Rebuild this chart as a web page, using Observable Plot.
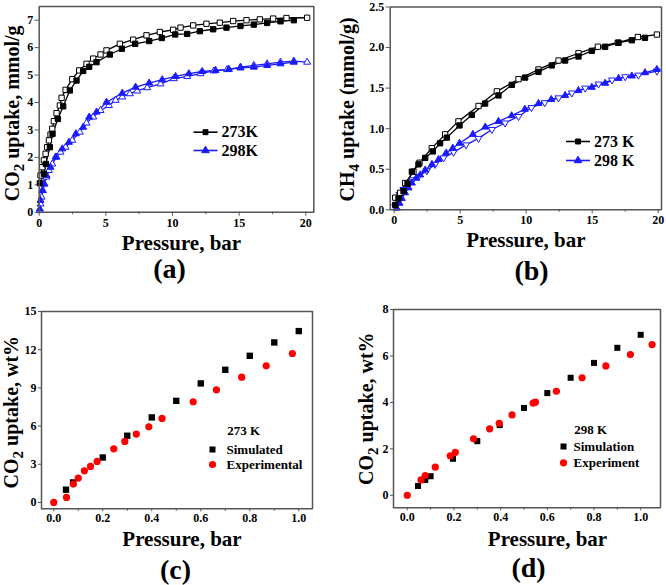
<!DOCTYPE html>
<html><head><meta charset="utf-8">
<script src="https://cdn.jsdelivr.net/npm/d3@7"></script>
<script src="https://cdn.jsdelivr.net/npm/@observablehq/plot@0.6"></script>
<style>
body{margin:0;background:#fff}
#root{position:relative;width:666px;height:585px;background:#fff}
#root > div.cell{position:absolute}
#root > div.cell svg{display:block}
</style></head><body><div id="root"></div>
<script>
// ---------- Panel (a): CO2 uptake (mmol/g) vs pressure (bar) ----------
const a273fillP = [0.05,0.35,0.5,0.8,1.0,1.4,1.8,2.3,2.8,3.3,3.75,4.3,5.3,6.2,7.2,8.25,9.2,10.2,11.1,12.05,13.05,14.05,15.1,16.1,17.1,18.1,19.1];
const a273fillU = [1.06,1.4,1.76,2.37,2.86,3.4,3.86,4.44,4.8,5.15,5.3,5.47,5.75,5.96,6.14,6.24,6.35,6.48,6.5,6.6,6.67,6.73,6.79,6.84,6.9,6.96,7.0];
const a273openP = [0.1,0.23,0.35,0.48,0.6,0.73,0.85,0.98,1.1,1.3,1.55,1.68,1.98,2.48,3.0,3.55,4.05,4.6,5.05,6.05,7.05,8.05,9.05,10.05,10.6,11.55,12.55,13.55,14.55,15.55,16.55,17.55,18.55,20.1];
const a273openU = [1.34,1.64,1.89,2.13,2.37,2.62,2.83,3.04,3.32,3.61,3.89,4.17,4.46,4.85,5.17,5.41,5.6,5.75,5.9,6.14,6.29,6.45,6.57,6.65,6.73,6.81,6.87,6.91,6.97,7.0,7.03,7.06,7.08,7.09];
const a298fillP = [0.05,0.1,0.23,0.35,0.55,0.85,1.23,1.73,2.23,2.75,3.3,3.75,4.3,5.05,6.23,7.23,8.25,9.23,10.23,11.23,12.23,13.23,14.23,15.1,16.1,17.1,18.1,19.1];
const a298fillU = [0.12,0.43,0.79,1.03,1.34,1.64,2.01,2.31,2.55,2.86,3.1,3.47,3.65,4.01,4.34,4.56,4.71,4.83,4.95,5.05,5.13,5.17,5.21,5.26,5.29,5.35,5.41,5.47];
const a298openP = [0.05,0.1,0.18,0.28,0.4,0.53,0.73,0.98,1.3,1.6,1.98,2.48,3.05,3.55,4.05,4.6,5.23,5.73,6.23,6.8,7.35,8.1,9.1,10.1,11.1,12.1,13.1,14.1,15.1,16.1,17.1,18.1,19.1,20.1];
const a298openU = [0.06,0.3,0.55,0.79,1.03,1.28,1.52,1.76,2.01,2.19,2.37,2.62,2.92,3.25,3.47,3.71,3.89,4.08,4.2,4.32,4.42,4.54,4.68,4.87,4.95,5.05,5.15,5.2,5.29,5.35,5.41,5.47,5.51,5.47];

// ---------- Panel (b): CH4 uptake (mmol/g) vs pressure (bar) ----------
const b273fillP = [0.08,0.33,0.71,1.01,1.34,1.84,2.35,2.93,3.48,3.99,4.95,5.88,6.89,7.9,8.91,9.92,10.93,11.94,12.95,13.96,14.97,15.98,17.0,18.0,19.0];
const b273fillU = [0.06,0.14,0.23,0.32,0.47,0.56,0.64,0.72,0.82,0.89,1.04,1.17,1.31,1.41,1.54,1.63,1.7,1.78,1.84,1.89,1.96,2.01,2.06,2.09,2.12];
const b273openP = [0.08,0.45,0.83,1.46,1.92,2.85,3.86,4.87,6.39,7.78,9.42,10.93,12.45,13.96,15.43,16.94,18.46,19.9];
const b273openU = [0.15,0.21,0.33,0.47,0.58,0.76,0.93,1.09,1.28,1.46,1.61,1.73,1.84,1.93,2.01,2.06,2.13,2.16];
const b298fillP = [0.2,0.4,0.58,0.83,1.09,1.34,1.67,1.97,2.35,2.86,3.36,3.94,4.44,4.95,5.96,6.9,7.9,8.9,9.9,10.93,11.9,12.95,13.96,14.97,15.98,17.0,18.0,19.0,19.9];
const b298fillU = [0.02,0.08,0.14,0.21,0.27,0.33,0.39,0.43,0.49,0.56,0.62,0.7,0.76,0.82,0.93,1.02,1.09,1.16,1.24,1.31,1.36,1.41,1.47,1.51,1.56,1.62,1.65,1.69,1.73];
const b298openP = [0.08,0.25,0.4,0.7,1.0,1.41,1.84,2.47,3.1,3.74,4.5,5.45,6.39,7.4,8.4,9.42,10.4,11.4,12.45,13.46,14.47,15.48,16.5,17.5,18.5,19.9];
const b298openU = [0.04,0.12,0.19,0.25,0.31,0.37,0.41,0.48,0.56,0.64,0.71,0.8,0.88,0.99,1.07,1.15,1.26,1.32,1.38,1.44,1.5,1.55,1.6,1.64,1.66,1.71];

// ---------- Panel (c): 273 K, CO2 uptake wt% vs pressure (bar) ----------
const cSimP = [0.05,0.079,0.2,0.3,0.4,0.5,0.6,0.7,0.8,0.9,1.0];
const cSimU = [1.0,1.57,3.53,5.24,6.68,7.98,9.35,10.42,11.52,12.57,13.46];
const cExpP = [0,0.052,0.08,0.1,0.125,0.15,0.177,0.245,0.29,0.337,0.388,0.442,0.569,0.664,0.767,0.867,0.974];
const cExpU = [0,0.39,1.44,1.91,2.49,2.83,3.22,4.21,4.79,5.37,5.94,6.6,7.91,8.85,9.84,10.73,11.7];

// ---------- Panel (d): 298 K, CO2 uptake wt% vs pressure (bar) ----------
const dSimP = [0.046,0.077,0.1,0.196,0.3,0.396,0.5,0.6,0.7,0.8,0.9,1.0];
const dSimU = [0.4,0.66,0.82,1.57,2.33,3.02,3.76,4.4,5.06,5.7,6.35,6.91];
const dExpP = [0,0.059,0.077,0.12,0.184,0.206,0.284,0.353,0.394,0.449,0.539,0.549,0.639,0.749,0.851,0.956,1.049];
const dExpU = [0,0.66,0.85,1.21,1.7,1.85,2.43,2.86,3.1,3.46,3.97,4.01,4.48,5.06,5.57,6.06,6.49];

// tick values and labels
const aXTicks = [0,5,10,15,20], aXMinor = [2.5,7.5,12.5,17.5], aYTicks = [0,1,2,3,4,5,6,7];
const bXTicks = [0,5,10,15,20], bXMinor = [2.5,7.5,12.5,17.5], bYTicks = [0,0.5,1.0,1.5,2.0,2.5];
const cdXTicks = [0,0.2,0.4,0.6,0.8,1.0], cdXMinor = [0.1,0.3,0.5,0.7,0.9];
const cYTicks = [0,3,6,9,12,15], dYTicks = [0,2,4,6,8];
const xLabel = "Pressure, bar";
const yLabels = ["CO2 uptake, mmol/g", "CH4 uptake (mmol/g)", "CO2 uptake, wt%", "CO2 uptake, wt%"];
const panelTags = ["(a)", "(b)", "(c)", "(d)"];
const legendAB = [["273K","298K"],["273 K","298 K"]];
const legendC = ["273 K", "Simulated", "Experimental"];
const legendD = ["298 K", "Simulation", "Experiment"];

// ---------- helpers ----------
const zip = (P, U) => P.map((p, i) => ({p, u: U[i]}));
const FONT = "'Liberation Serif','Times New Roman',serif";
const BLUE = "#1a1aff", RED = "#ff0000", AXIS = "#555";
const s3 = Math.sqrt(3);
const downTriangle = {draw(ctx, size) {
  const y = -Math.sqrt(size / (s3 * 3));
  ctx.moveTo(0, -y * 2); ctx.lineTo(-s3 * y, y); ctx.lineTo(s3 * y, y); ctx.closePath();
}};
const hline = {draw(ctx) { ctx.moveTo(-12, 0); ctx.lineTo(12, 0); }};
const root = document.getElementById("root");

function panel(cfg) {
  const [x0, x1] = cfg.xd, [y0, y1] = cfg.yd;
  // plot box traced along the scale domain extents
  const boxPath = zip([x0, x1, x1, x0, x0], [y0, y0, y1, y1, y0]);
  const svg = Plot.plot({
    width: cfg.w, height: cfg.h,
    marginLeft: cfg.ml, marginRight: cfg.mr, marginTop: cfg.mt, marginBottom: cfg.mb,
    x: {domain: cfg.xd}, y: {domain: cfg.yd},
    style: {fontFamily: FONT, fontSize: "12px", fontWeight: "bold", color: "black", background: "transparent"},
    marks: [
      Plot.axisX(cfg.xt, {tickSize: cfg.ts, tickPadding: 2, tickFormat: cfg.xf, stroke: AXIS, label: null}),
      Plot.axisX(cfg.xm, {tickSize: 2.5, tickFormat: () => "", stroke: AXIS, label: null}),
      Plot.axisY(cfg.yt, {tickSize: cfg.ts, tickPadding: 2, tickFormat: cfg.yf, stroke: AXIS, label: null}),
      ...cfg.marks,
      Plot.line(boxPath, {x: "p", y: "u", stroke: AXIS, strokeWidth: 1.5, strokeLinejoin: "miter", strokeLinecap: "square"}),
      Plot.text([xLabel], {text: d => d, frameAnchor: "bottom", dx: cfg.xlp[0], dy: cfg.xlp[1], lineAnchor: "middle", fontSize: 21, fontWeight: "bold"}),
      Plot.text([cfg.yl], {text: d => d, frameAnchor: "left", rotate: -90, dx: cfg.ylp[0], dy: cfg.ylp[1], textAnchor: "middle", lineAnchor: "middle", fontSize: 20, fontWeight: "bold"}),
      Plot.text([cfg.tag], {text: d => d, frameAnchor: "bottom", dx: cfg.tagp[0], dy: cfg.tagp[1], lineAnchor: "middle", fontSize: 28, fontWeight: "bold"})
    ]
  });
  // subscripts
  svg.querySelectorAll("text").forEach(t => {
    const s = t.textContent;
    const m = s.match(/^(CO|CH)(\d)(.*)$/);
    if (m && t.children.length === 0) {
      t.textContent = "";
      const ns = "http://www.w3.org/2000/svg";
      const a = document.createElementNS(ns, "tspan"); a.textContent = m[1];
      const b = document.createElementNS(ns, "tspan"); b.textContent = m[2]; b.setAttribute("dy", "5"); b.setAttribute("font-size", "15");
      const c = document.createElementNS(ns, "tspan"); c.textContent = m[3]; c.setAttribute("dy", "-5");
      t.append(a, b, c);
    }
  });
  const cell = document.createElement("div");
  cell.className = "cell";
  cell.style.left = cfg.left + "px";
  cell.style.top = cfg.top + "px";
  cell.append(svg);
  root.append(cell);
}

function legendRow(x, y, color, sym, filled, label, size) {
  return [
    Plot.dot([0], {frameAnchor: "top-left", dx: x, dy: y, symbol: hline, stroke: color, strokeWidth: 1.6, fill: "none"}),
    Plot.dot([0], {frameAnchor: "top-left", dx: x, dy: y, symbol: sym, r: 2.8, fill: filled ? color : "white", stroke: color, strokeWidth: 1}),
    Plot.text([label], {text: d => d, frameAnchor: "top-left", dx: x + 16, dy: y, textAnchor: "start", lineAnchor: "middle", fontSize: size, fontWeight: "bold"})
  ];
}

function series(data, color, sym, filled, r) {
  return Plot.dot(data, {x: "p", y: "u", symbol: sym, r, fill: filled ? color : "white", stroke: color, strokeWidth: 1});
}
function curve(data, color) {
  return Plot.line(data, {x: "p", y: "u", stroke: color, strokeWidth: 1.3});
}

// Panel (a)
const a273f = zip(a273fillP, a273fillU), a273o = zip(a273openP, a273openU);
const a298f = zip(a298fillP, a298fillU), a298o = zip(a298openP, a298openU);
panel({
  left: 0, top: 0, w: 333, h: 292, ml: 38.7, mr: 19.7, mt: 6, mb: 80.3,
  xd: [0, 20.6], yd: [0, 7.5], xt: aXTicks, xm: aXMinor, yt: aYTicks, ts: 4,
  xf: d3.format("d"), yf: d3.format("d"),
  yl: yLabels[0], tag: panelTags[0],
  xlp: [5, 31.3], ylp: [-27, 4], tagp: [-7, 57],
  marks: [
    curve(a298o, BLUE), curve(a298f, BLUE), curve(a273o, "black"), curve(a273f, "black"),
    series(a298o, BLUE, "triangle", false, 2.6), series(a298f, BLUE, "triangle", true, 2.6),
    series(a273o, "black", "square", false, 3), series(a273f, "black", "square", true, 3),
    ...legendRow(166.3, 125.7, "black", "square", true, legendAB[0][0], 16),
    ...legendRow(166.3, 144, BLUE, "triangle", true, legendAB[0][1], 16)
  ]
});

// Panel (b)
const b273f = zip(b273fillP, b273fillU), b273o = zip(b273openP, b273openU);
const b298f = zip(b298fillP, b298fillU), b298o = zip(b298openP, b298openU);
panel({
  left: 333, top: 0, w: 333, h: 292, ml: 56.7, mr: 5, mt: 6.5, mb: 82.7,
  xd: [-0.3, 20.25], yd: [0, 2.5], xt: bXTicks, xm: bXMinor, yt: bYTicks, ts: 4,
  xf: d3.format("d"), yf: d3.format(".1f"),
  yl: yLabels[1], tag: panelTags[1],
  xlp: [0, 30], ylp: [-42.5, 1], tagp: [5.7, 61],
  marks: [
    curve(b298o, BLUE), curve(b298f, BLUE), curve(b273o, "black"), curve(b273f, "black"),
    series(b298o, BLUE, downTriangle, false, 2.6), series(b298f, BLUE, "triangle", true, 2.6),
    series(b273o, "black", "square", false, 3), series(b273f, "black", "square", true, 3),
    ...legendRow(187.8, 134.5, "black", "square", true, legendAB[1][0], 16),
    ...legendRow(187.8, 153.5, BLUE, "triangle", true, legendAB[1][1], 16)
  ]
});

// Panel (c)
panel({
  left: 0, top: 292, w: 333, h: 293, ml: 41, mr: 21, mt: 19, mb: 76.7,
  xd: [-0.05, 1.056], yd: [-0.5, 15], xt: cdXTicks, xm: cdXMinor, yt: cYTicks, ts: 3,
  xf: d3.format(".1f"), yf: d3.format("d"),
  yl: yLabels[2], tag: panelTags[2],
  xlp: [5, 30], ylp: [-30, 2], tagp: [-1.5, 61],
  marks: [
    Plot.dot(zip(cSimP, cSimU), {x: "p", y: "u", symbol: "square", r: 3.6, fill: "black"}),
    Plot.dot(zip(cExpP, cExpU), {x: "p", y: "u", r: 3.6, fill: RED}),
    Plot.text([legendC[0]], {text: d => d, frameAnchor: "top-left", dx: 185.7, dy: 119, textAnchor: "start", lineAnchor: "middle", fontSize: 13, fontWeight: "bold"}),
    Plot.dot([0], {frameAnchor: "top-left", dx: 171, dy: 138, symbol: "square", r: 3.4, fill: "black"}),
    Plot.text([legendC[1]], {text: d => d, frameAnchor: "top-left", dx: 185, dy: 138, textAnchor: "start", lineAnchor: "middle", fontSize: 13, fontWeight: "bold"}),
    Plot.dot([0], {frameAnchor: "top-left", dx: 171, dy: 153, r: 3.6, fill: RED}),
    Plot.text([legendC[2]], {text: d => d, frameAnchor: "top-left", dx: 185, dy: 153, textAnchor: "start", lineAnchor: "middle", fontSize: 13, fontWeight: "bold"})
  ]
});

// Panel (d)
panel({
  left: 333, top: 292, w: 333, h: 293, ml: 60, mr: 6, mt: 17, mb: 77.7,
  xd: [-0.059, 1.085], yd: [-0.54, 8], xt: cdXTicks, xm: cdXMinor, yt: dYTicks, ts: 3,
  xf: d3.format(".1f"), yf: d3.format("d"),
  yl: yLabels[3], tag: panelTags[3],
  xlp: [20.5, 31], ylp: [-27, 0], tagp: [1.5, 60],
  marks: [
    Plot.dot(zip(dSimP, dSimU), {x: "p", y: "u", symbol: "square", r: 3.4, fill: "black"}),
    Plot.dot(zip(dExpP, dExpU), {x: "p", y: "u", r: 3.6, fill: RED}),
    Plot.text([legendD[0]], {text: d => d, frameAnchor: "top-left", dx: 180.7, dy: 120.3, textAnchor: "start", lineAnchor: "middle", fontSize: 13, fontWeight: "bold"}),
    Plot.dot([0], {frameAnchor: "top-left", dx: 170, dy: 137, symbol: "square", r: 3.4, fill: "black"}),
    Plot.text([legendD[1]], {text: d => d, frameAnchor: "top-left", dx: 180, dy: 137, textAnchor: "start", lineAnchor: "middle", fontSize: 13, fontWeight: "bold"}),
    Plot.dot([0], {frameAnchor: "top-left", dx: 170, dy: 153.3, r: 3.6, fill: RED}),
    Plot.text([legendD[2]], {text: d => d, frameAnchor: "top-left", dx: 180, dy: 153.3, textAnchor: "start", lineAnchor: "middle", fontSize: 13, fontWeight: "bold"})
  ]
});
</script></body></html>
